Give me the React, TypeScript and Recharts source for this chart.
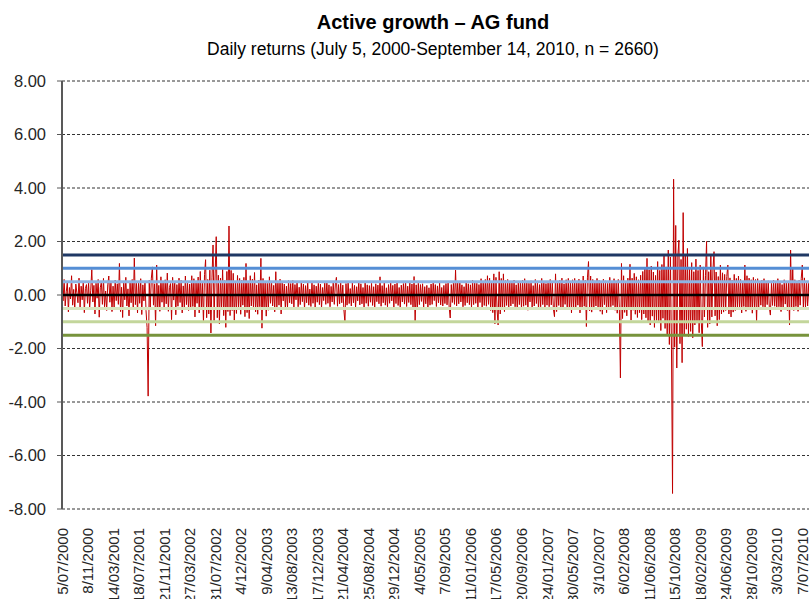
import { LineChart, Line, XAxis, YAxis, CartesianGrid, ReferenceLine } from 'recharts';

// one tick label every 24 points (~4 months of trading days)
const POINTS_PER_TICK = 24;

const tickDates = [
  '5/07/2000', '8/11/2000', '14/03/2001', '18/07/2001', '21/11/2001', '27/03/2002',
  '31/07/2002', '4/12/2002', '9/04/2003', '13/08/2003', '17/12/2003', '21/04/2004',
  '25/08/2004', '29/12/2004', '4/05/2005', '7/09/2005', '11/01/2006', '17/05/2006',
  '20/09/2006', '24/01/2007', '30/05/2007', '3/10/2007', '6/02/2008', '11/06/2008',
  '15/10/2008', '18/02/2009', '24/06/2009', '28/10/2009', '3/03/2010', '7/07/2010',
];

// daily returns (%), thinned out
const returns = [
  0.35, -0.22, 0.58, -0.41, 0.12, 0.46, -0.63, 0.28, -0.15, 0.72, -0.38, 0.21,
  -0.55, 0.41, 0.08, -0.29, 0.63, -0.47, 0.33, -0.18, 0.52, -0.66, 0.24, 0.39,
  -0.31, 0.47, -0.52, 0.18, 0.95, -0.26, 0.36, -0.71, 0.44, -0.12, 0.58, -0.83,
  0.27, 0.49, -0.35, 0.62, -0.44, 0.15, -0.58, 0.38, 0.71, -0.27, 0.46, -0.62,
  0.33, -0.48, 0.56, -0.21, 0.42, -0.35, 1.18, -0.62, 0.29, -0.84, 0.51, -0.18,
  0.66, -0.41, 0.23, -0.78, 0.47, -0.29, 0.58, -0.52, 1.38, -0.36, 0.44, -0.67,
  0.52, -0.31, 0.61, -0.73, 0.38, -0.22, 0.49, -0.58, -1.22, -3.78, 0.55, -0.46,
  0.63, 1.05, -0.38, 0.42, -1.15, 1.12, -0.52, 0.36, -0.61, 0.68, -0.27, 0.45,
  -0.47, 0.57, -0.33, 0.82, -0.61, 0.28, 0.43, -0.92, 0.66, -0.19, 0.51, -0.74,
  0.39, -0.42, 0.63, -0.28, 0.55, -0.67, 0.34, -0.5, 0.71, -0.36, 0.48, -0.58,
  0.41, -0.55, 0.72, -0.43, 0.61, -0.82, 0.48, -0.31, 0.67, -0.67, 0.88, -0.52,
  0.44, -1.02, 0.76, 1.32, -0.85, 0.58, -0.71, 0.93, -1.42, 0.64, 1.87, -0.96,
  0.82, 2.18, -0.85, 0.74, -1.08, 0.63, -0.51, 0.96, -0.77, 0.54, -1.21, 0.88,
  -0.62, 2.58, -0.77, 0.92, -0.58, 0.81, -0.94, 0.47, -0.69, 0.73, -0.45, 0.62,
  -0.72, 0.55, -0.38, 0.66, -0.81, 1.18, -0.66, 0.48, -0.88, 0.72, -0.41, 0.59,
  -0.51, 0.84, -0.63, 0.38, -0.72, 0.56, -0.44, 1.37, -1.24, 0.62, -0.49, 0.51,
  -0.79, 0.44, -0.57, 0.68, -0.31, 0.52, -0.41, 0.36, -0.63, 0.87, -0.48, 0.52,
  -0.38, 0.59, -0.71, 0.46, -0.22, 0.41, -0.55, 0.33, -0.47, 0.54, -0.29, 0.43,
  -0.33, 0.54, -0.47, 0.39, -0.18, 0.52, -0.44, 0.29, -0.36, 0.48, -0.25, 0.41,
  -0.52, 0.35, -0.29, 0.46, -0.38, 0.22, -0.43, 0.51, -0.31, 0.38, -0.45, 0.33,
  -0.27, 0.44, -0.36, 0.41, -0.49, 0.28, -0.21, 0.47, -0.35, 0.52, -0.31, 0.38,
  -0.44, 0.32, -0.26, 0.47, -0.35, 0.41, 0.66, -0.42, 0.39, -0.33, 0.45, -0.29,
  0.37, -0.55, -1.02, 0.43, -0.38, 0.51, -0.32, 0.24, -0.41, 0.45, -0.29, 0.36,
  -0.47, 0.31, -0.22, 0.47, -0.37, 0.42, -0.33, 0.28, -0.45, 0.49, -0.31, 0.38,
  -0.42, 0.35, -0.27, 0.44, -0.39, 0.31, -0.48, 0.42, -0.25, 0.37, -0.33, 0.68,
  -0.42, 0.35, -0.29, 0.46, -0.38, 0.27, -0.44, 0.39, -0.31, 0.48, -0.22, 0.36,
  -0.45, 0.41, -0.32, 0.46, -0.39, 0.28, -0.51, 0.37, -0.26, 0.43, -0.34, 0.52,
  -0.43, 0.33, -0.28, 0.47, -0.36, 0.41, -0.48, 0.69, -1.01, 0.38, -0.56, 0.44,
  -0.36, 0.39, -0.24, 0.42, -0.47, 0.31, -0.33, 0.36, -0.45, 0.27, -0.38, 0.41,
  -0.35, 0.48, -0.21, 0.39, -0.43, 0.34, -0.29, 0.45, -0.37, 0.28, -0.41, 0.36,
  -0.32, 0.43, -0.37, 0.51, -0.46, -0.86, 0.39, -0.28, 0.44, -0.35, 0.93, -0.41,
  0.45, -0.33, 0.52, -0.26, 0.38, -0.44, 0.31, -0.39, 0.47, -0.29, 0.42, -0.36,
  0.38, -0.47, 0.55, -0.36, 0.49, -0.31, 0.44, -0.52, 0.39, -0.28, 0.61, -0.45,
  0.51, -0.39, 0.58, -0.42, 0.72, -0.35, 0.63, -0.58, 0.47, -0.66, 0.79, -1.08,
  0.66, -0.52, -1.12, 0.87, -0.71, 0.62, -0.48, 0.79, -0.62, 0.54, -0.39, 0.58,
  -0.49, 0.52, -0.41, 0.47, -0.33, 0.56, -0.44, 0.38, -0.51, 0.45, -0.36, 0.49,
  -0.53, 0.56, -0.42, 0.61, -0.38, 0.49, -0.57, 0.44, -0.26, 0.53, -0.46, 0.35,
  -0.41, 0.58, -0.32, 0.47, -0.55, 0.39, -0.44, 0.62, -0.36, 0.51, -0.48, 0.43,
  -0.38, 0.51, -0.44, 0.58, -0.37, 0.46, -0.52, -0.81, 0.79, -0.62, 0.47, -0.39,
  0.55, -0.48, 0.63, -0.51, 0.42, -0.35, 0.57, -0.46, 0.62, -0.55, 0.48, -0.67,
  0.57, -0.46, 0.62, -0.55, 0.48, -0.38, 0.59, -0.67, 0.44, -0.51, 0.71, -0.42,
  0.55, -1.18, 0.64, 1.25, -0.59, 0.71, -0.64, 0.58, -0.49, 0.53, -0.41, 0.62,
  -0.49, 0.54, -0.61, 0.47, -0.72, 0.59, -0.36, 0.53, -0.66, 0.44, -0.52, 0.66,
  -0.44, 0.52, -0.39, 0.61, -0.57, 0.45, -0.68, 0.58, -0.47, -3.1, 1.18, -0.88,
  0.72, -0.65, 0.51, -0.78, 0.63, -0.49, 1.15, -0.94, 0.63, -0.57, 0.81, -0.72,
  0.68, -0.84, 0.57, -0.66, 0.74, -0.92, 0.88, -0.71, 1.02, -0.85, 1.37, -0.98,
  0.94, -1.12, 1.08, -0.79, 0.86, -1.21, 0.73, -0.95, 1.25, -1.04, 0.92, -1.33,
  1.14, -0.87, 1.52, -1.25, 1.05, -1.48, 1.68, -1.85, 1.42, -2.05, -7.42, 4.33,
  -1.95, 2.6, -2.73, 1.46, 2.05, -1.82, 1.33, -2.53, 3.08, -1.46, 1.52, -1.28,
  1.74, -1.55, 0.98, -1.36, 1.21, -1.6, 0.87, -1.12, 1.34, -1.05, 0.92, -1.41,
  1.12, -0.96, -1.93, 1.05, -0.82, 0.74, 2.0, -1.21, 0.87, -1.08, 1.48, -0.82,
  0.94, 1.62, -0.78, 0.86, -1.15, 0.69, -0.92, 1.12, -0.71, 0.83, -0.64, 0.77,
  -0.58, 0.69, 1.12, -0.71, 0.64, -0.82, 0.55, -0.64, 0.77, -0.58, 0.62, -0.49,
  0.71, -0.54, 0.58, -0.67, 0.49, -0.43, 1.12, -0.61, 0.72, -0.54, 0.63, -0.47,
  0.57, -0.68, 0.66, -0.49, 0.58, -1.0, 0.61, -0.46, 0.52, -0.38, 0.55, -0.44,
  0.61, -0.52, 0.48, -0.36, 0.53, -0.47, -0.75, 0.44, -0.39, 0.56, -0.42, 0.49,
  -0.55, 0.61, -0.44, 0.48, -0.62, 0.39, -0.51, 0.57, -0.34, 0.46, -0.58, 0.52,
  -1.12, 1.68, -0.46, 1.02, -0.58, 0.57, -0.43, 0.49, -0.61, 0.55, -0.38, 0.62,
  1.12, -0.53, 0.64, -0.47, 0.49, -0.41, 0.44, -0.56, 0.38, -0.45, 0.52, -0.36,
];

const yTicks = [-8, -6, -4, -2, 0, 2, 4, 6, 8];
const bandLevels = [1.5, 1, 0.5, -0.5, -1, -1.5];
const bandColors = ['#1F3864', '#558ED5', '#8EB4E3', '#D7E4BD', '#C3D69B', '#77933C'];

const data = returns.map((v, i) => ({ i, v }));
const xTicks = tickDates.map((_, k) => k * POINTS_PER_TICK);

function DateTick({ x, y, payload }: any) {
  return (
    <text
      x={x}
      y={y}
      transform={`rotate(-90, ${x}, ${y})`}
      textAnchor="end"
      dominantBaseline="central"
      fontSize={15}
      fill="#262626"
    >
      {tickDates[Math.round(payload.value / POINTS_PER_TICK)]}
    </text>
  );
}

export default function App() {
  return (
    <div
      style={{
        position: 'fixed',
        left: 0,
        top: 0,
        width: 809,
        height: 599,
        overflow: 'hidden',
        background: '#fff',
        fontFamily: '"Liberation Sans", Arial, sans-serif',
      }}
    >
      <div style={{ position: 'absolute', left: 0, width: 866, top: 10, textAlign: 'center', fontSize: 20, fontWeight: 'bold', lineHeight: '24px', color: '#000' }}>
        Active growth – AG fund
      </div>
      <div style={{ position: 'absolute', left: 0, width: 866, top: 38, textAlign: 'center', fontSize: 17.5, lineHeight: '22px', color: '#000' }}>
        Daily returns (July 5, 2000-September 14, 2010, n = 2660)
      </div>

      <LineChart
        width={816}
        height={599}
        data={data}
        margin={{ top: 81, right: 2, bottom: 0, left: 0 }}
        style={{ position: 'absolute', left: 0, top: 0 }}
      >
        <CartesianGrid vertical={false} stroke="#333" strokeDasharray="3 2" />
        <XAxis
          type="number"
          dataKey="i"
          domain={[0, returns.length - 1]}
          ticks={xTicks}
          interval={0}
          axisLine={false}
          tickLine={false}
          tickSize={0}
          tickMargin={19}
          height={90}
          tick={<DateTick />}
        />
        <YAxis
          domain={[-8, 8]}
          ticks={yTicks}
          width={62}
          tickSize={5}
          tickMargin={11}
          tickFormatter={(v: number) => v.toFixed(2)}
          axisLine={{ stroke: '#595959', strokeWidth: 2 }}
          tickLine={{ stroke: '#595959' }}
          tick={{ fontSize: 16.5, fill: '#262626' }}
        />
        <Line
          type="linear"
          dataKey="v"
          stroke="#C00000"
          strokeWidth={1}
          dot={false}
          isAnimationActive={false}
        />
        {bandLevels.map((lvl, k) => (
          <ReferenceLine key={lvl} y={lvl} stroke={bandColors[k]} strokeWidth={3} />
        ))}
        <ReferenceLine y={0} stroke="#000" strokeWidth={2.5} />
      </LineChart>
    </div>
  );
}
